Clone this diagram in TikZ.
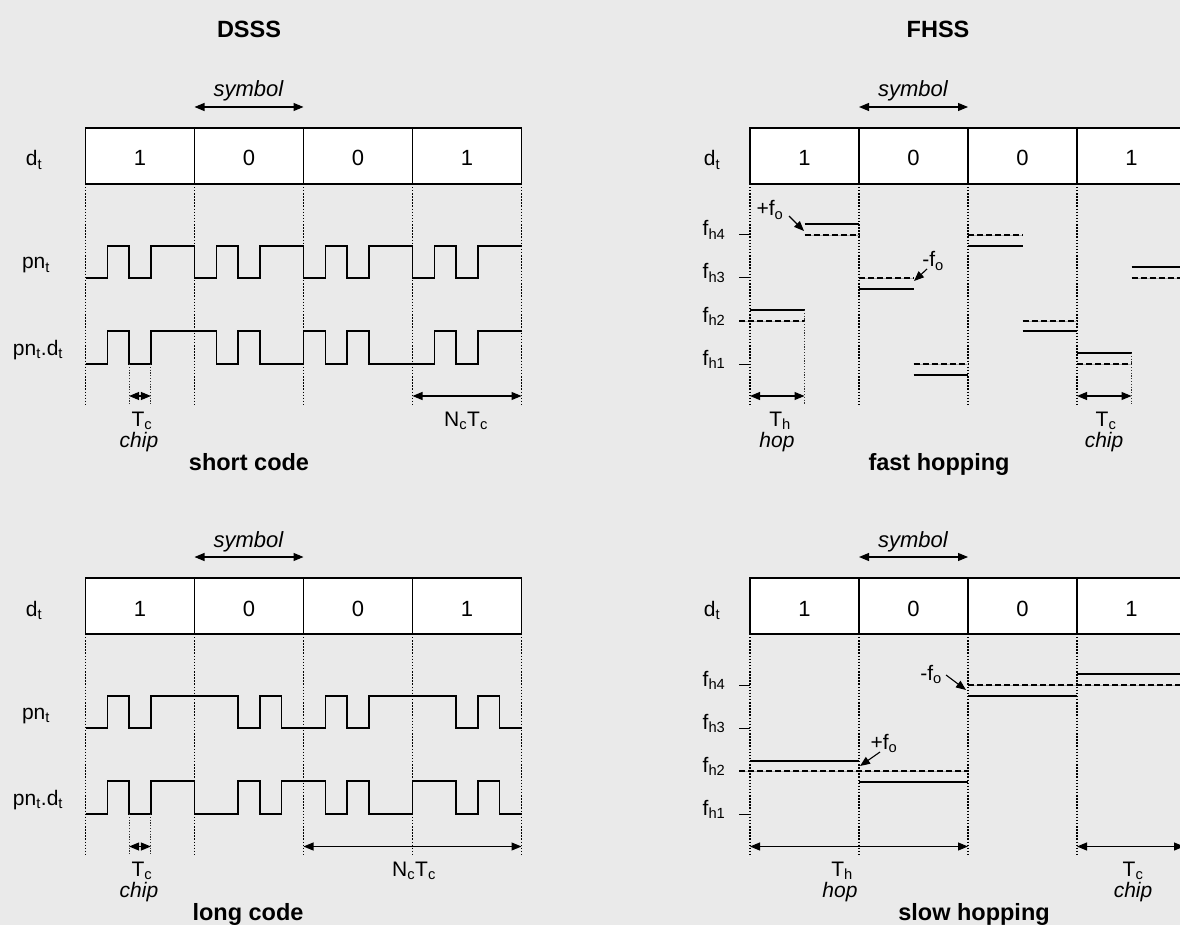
\documentclass[tikz,border=0pt]{standalone}
\usepackage{fontspec}
\setmainfont{Liberation Sans}
\usetikzlibrary{arrows.meta}
\definecolor{bg}{HTML}{EAEAEA}
\newcommand\sbs[1]{\textsubscript{#1}}
\newcommand\frameblock[1]{%
  \node[itl, font=\fontsize{22}{26}\selectfont\itshape] (sym) at (#1+163,97) {symbol};
  \coordinate (sa) at (#1+109,107);
  \coordinate (sb) at (#1+218,107);
  \draw[dim] (sa) -- (sb);
  \draw[line width=1.3pt, fill=white] (#1,128) rectangle (#1+436,184);
  \foreach \k in {1,2,3} \draw[line width=1.4pt] (#1+109*\k,128) -- (#1+109*\k,184);
  \foreach \b [count=\k from 0] in {1,0,0,1} \node[dig] (bit\k) at (#1+54.5+109*\k,166) {\b};
  \foreach \k in {0,...,4} \draw[vdot] (#1+109*\k,128) -- (#1+109*\k,404);
}
\newcommand\flabels{%
  \foreach \t/\n in {235/4,278/3,321/2,364/1} {
    \node[lab] (fl\n) at (714,\t+1) {f\sbs{h\n}};
    \draw[line width=1pt] (739,\t) -- (750,\t);
  }
}
\begin{document}
\begin{tikzpicture}[x=1pt,y=-1pt,
  wave/.style={line width=1.4pt, line join=miter},
  vdot/.style={line width=1.5pt, dash pattern=on 1.5pt off 1.6pt},
  fdot/.style={line width=1pt, dash pattern=on 1.2pt off 1.6pt, black!80},
  dim/.style={line width=1.1pt, {Triangle[length=10pt,width=8pt]}-{Triangle[length=10pt,width=8pt]}},
  ptr/.style={line width=1.1pt, -{Triangle[length=10pt,width=8pt]}},
  lab/.style={font=\fontsize{21}{25}\selectfont, anchor=base, inner sep=0pt},
  dig/.style={font=\fontsize{22}{26}\selectfont, anchor=base, inner sep=0pt},
  itl/.style={font=\fontsize{21}{25}\selectfont\itshape, anchor=base, inner sep=0pt},
  ttl/.style={font=\fontsize{23.5}{28}\selectfont\bfseries, anchor=base, inner sep=0pt},
  subttl/.style={font=\fontsize{23.5}{28}\selectfont\bfseries, anchor=base, inner sep=0pt},
  lvl/.style={line width=1.3pt},
  lvg/.style={line width=0.8pt, gray!60},
  lvd/.style={line width=1.3pt, dash pattern=on 6pt off 3pt},
]
\fill[bg] (0,0) rectangle (1180,925);
\useasboundingbox (0,0) rectangle (1180,925);

% ---------------- DSSS short code ----------------
\begin{scope}[name prefix=a-]
\node[ttl] (title) at (249,38) {DSSS};
\frameblock{85.5}
\node[lab] (dl) at (34,166) {d\sbs{t}};
\node[lab] (pnl) at (36,269) {pn\sbs{t}};
\node[lab] (pndl) at (38,355) {pn\sbs{t}.d\sbs{t}};
\draw[wave] (85.5,278) \foreach \b [count=\i from 0] in {0,1,0,1,1,0,1,0,1,1,0,1,0,1,1,0,1,0,1,1} { -- (85.5+21.8*\i,278-32*\b) -- (107.3+21.8*\i,278-32*\b) };
\draw[wave] (85.5,364) \foreach \b [count=\i from 0] in {0,1,0,1,1,1,0,1,0,0,1,0,1,0,0,0,1,0,1,1} { -- (85.5+21.8*\i,364-33*\b) -- (107.3+21.8*\i,364-33*\b) };
\draw[fdot] (129.1,364) -- (129.1,404);
\draw[fdot] (150.9,364) -- (150.9,404);
\coordinate (tc1) at (129.1,396); \coordinate (tc2) at (150.9,396);
\draw[dim] (tc1) -- (tc2);
\coordinate (nc1) at (412.5,396); \coordinate (nc2) at (521.5,396);
\draw[dim] (nc1) -- (nc2);
\node[lab] (tcl) at (142,426) {T\sbs{c}};
\node[itl] (chip) at (139,447) {chip};
\node[lab] (ncl) at (466,426) {N\sbs{c}T\sbs{c}};
\node[subttl] (sub) at (249,470) {short code};
\end{scope}

% ---------------- DSSS long code ----------------
\begin{scope}[name prefix=b-, shift={(0,450)}]
\frameblock{85.5}
\node[lab] (dl) at (34,166) {d\sbs{t}};
\node[lab] (pnl) at (36,269) {pn\sbs{t}};
\node[lab] (pndl) at (38,355) {pn\sbs{t}.d\sbs{t}};
\draw[wave] (85.5,278) \foreach \b [count=\i from 0] in {0,1,0,1,1,1,1,0,1,0,0,1,0,1,1,1,1,0,1,0} { -- (85.5+21.8*\i,278-32*\b) -- (107.3+21.8*\i,278-32*\b) };
\draw[wave] (85.5,364) \foreach \b [count=\i from 0] in {0,1,0,1,1,0,0,1,0,1,1,0,1,0,0,1,1,0,1,0} { -- (85.5+21.8*\i,364-33*\b) -- (107.3+21.8*\i,364-33*\b) };
\draw[fdot] (129.1,364) -- (129.1,404);
\draw[fdot] (150.9,364) -- (150.9,404);
\coordinate (tc1) at (129.1,396.5); \coordinate (tc2) at (150.9,396.5);
\draw[dim] (tc1) -- (tc2);
\coordinate (nc1) at (303.5,396.5); \coordinate (nc2) at (521.5,396.5);
\draw[dim] (nc1) -- (nc2);
\node[lab] (tcl) at (142,426) {T\sbs{c}};
\node[itl] (chip) at (139,447) {chip};
\node[lab] (ncl) at (414,426) {N\sbs{c}T\sbs{c}};
\node[subttl] (sub) at (248,470) {long code};
\end{scope}

% ---------------- FHSS fast hopping ----------------
\begin{scope}[name prefix=c-]
\node[ttl] (title) at (938,38) {FHSS};
\frameblock{750}
\node[lab] (dl) at (712,166) {d\sbs{t}};
\flabels
\draw[lvg] (739,321) -- (804.5,321); \draw[lvd] (739,321) -- (804.5,321); \draw[lvl] (750,310) -- (804.5,310);
\draw[lvg] (804.5,235) -- (859,235); \draw[lvd] (804.5,235) -- (859,235); \draw[lvl] (804.5,224) -- (859,224);
\draw[lvg] (859,278) -- (913.5,278); \draw[lvd] (859,278) -- (913.5,278); \draw[lvl] (859,289) -- (913.5,289);
\draw[lvg] (913.5,364) -- (968,364); \draw[lvd] (913.5,364) -- (968,364); \draw[lvl] (913.5,375) -- (968,375);
\draw[lvg] (968,235) -- (1022.5,235); \draw[lvd] (968,235) -- (1022.5,235); \draw[lvl] (968,246) -- (1022.5,246);
\draw[lvg] (1022.5,321) -- (1077,321); \draw[lvd] (1022.5,321) -- (1077,321); \draw[lvl] (1022.5,331) -- (1077,331);
\draw[lvg] (1077,364) -- (1131.5,364); \draw[lvd] (1077,364) -- (1131.5,364); \draw[lvl] (1077,353) -- (1131.5,353);
\draw[lvg] (1131.5,278) -- (1186,278); \draw[lvd] (1131.5,278) -- (1186,278); \draw[lvl] (1131.5,267) -- (1186,267);
\draw[fdot] (804.5,310) -- (804.5,404);
\draw[fdot] (1131.5,353) -- (1131.5,404);
\coordinate (th1) at (750,396); \coordinate (th2) at (804.5,396);
\draw[dim] (th1) -- (th2);
\coordinate (tc1) at (1077,396); \coordinate (tc2) at (1131.5,396);
\draw[dim] (tc1) -- (tc2);
\node[lab] (thl) at (780,426) {T\sbs{h}};
\node[itl] (hop) at (777,447) {hop};
\node[lab] (tcl) at (1106,426) {T\sbs{c}};
\node[itl] (chip) at (1104,447) {chip};
\node[lab] (pf) at (770,216) {+f\sbs{o}};
\coordinate (pfa) at (789,216); \coordinate (pfb) at (804,231);
\draw[ptr] (pfa) -- (pfb);
\node[lab] (mf) at (933,267) {-f\sbs{o}};
\coordinate (mfa) at (927,269); \coordinate (mfb) at (914,281);
\draw[ptr] (mfa) -- (mfb);
\node[subttl] (sub) at (939,470) {fast hopping};
\end{scope}

% ---------------- FHSS slow hopping ----------------
\begin{scope}[name prefix=d-, shift={(0,450)}]
\frameblock{750}
\node[lab] (dl) at (712,166) {d\sbs{t}};
\flabels
\draw[lvg] (739,321) -- (968,321); \draw[lvd] (739,321) -- (968,321);
\draw[lvl] (750,311) -- (859,311);
\draw[lvl] (859,332) -- (968,332);
\draw[lvg] (968,235) -- (1186,235); \draw[lvd] (968,235) -- (1186,235);
\draw[lvl] (968,246) -- (1077,246);
\draw[lvl] (1077,224) -- (1186,224);
\coordinate (th1) at (750,396.5); \coordinate (th2) at (968,396.5);
\draw[dim] (th1) -- (th2);
\coordinate (tc1) at (1077,396.5); \coordinate (tc2) at (1184,396.5);
\draw[dim] (tc1) -- (tc2);
\node[lab] (thl) at (842,426) {T\sbs{h}};
\node[itl] (hop) at (840,447) {hop};
\node[lab] (tcl) at (1133,426) {T\sbs{c}};
\node[itl] (chip) at (1133,447) {chip};
\node[lab] (pf) at (884,299) {+f\sbs{o}};
\coordinate (pfa) at (880,302); \coordinate (pfb) at (860,316);
\draw[ptr] (pfa) -- (pfb);
\node[lab] (mf) at (931,230) {-f\sbs{o}};
\coordinate (mfa) at (946,225); \coordinate (mfb) at (966,240);
\draw[ptr] (mfa) -- (mfb);
\node[subttl] (sub) at (974,470) {slow hopping};
\end{scope}
\end{tikzpicture}
\end{document}
